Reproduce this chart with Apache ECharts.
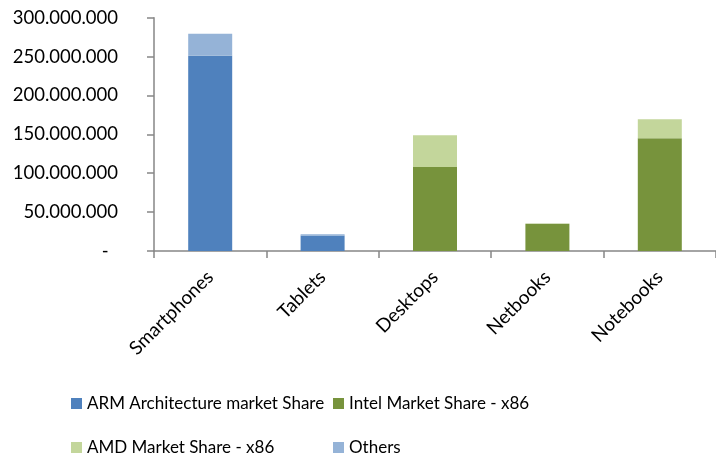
<!DOCTYPE html>
<html><head><meta charset="utf-8">
<script src="https://cdn.jsdelivr.net/npm/echarts@6/dist/echarts.min.js"></script>
<style>html,body{margin:0;padding:0;background:#fff}#c{width:716px;height:458px}</style>
</head><body><div id="c"></div>
<script>
var categories = ['Smartphones', 'Tablets', 'Desktops', 'Netbooks', 'Notebooks'];
var armShare = [251000000, 20000000, 0, 0, 0];
var intelShare = [0, 0, 108000000, 35000000, 145000000];
var amdShare = [0, 0, 41000000, 500000, 24500000];
var othersShare = [28500000, 1500000, 0, 0, 0];
var seriesNames = ['ARM Architecture market Share', 'Intel Market Share - x86', 'AMD Market Share - x86', 'Others'];
var colors = ['#4F81BD', '#77933C', '#C3D69B', '#95B3D7'];
var FONT = 'Lato';

function fmt(v) {
  if (v === 0) return '-  ';
  return String(v).replace(/\B(?=(\d{3})+(?!\d))/g, '.');
}
var chart = echarts.init(document.getElementById('c'));
var data = [armShare, intelShare, amdShare, othersShare];
var legendPos = [[71, 395], [333, 395], [71, 439], [333, 439]];
chart.setOption({
  animation: false,
  textStyle: {fontFamily: FONT, color: '#000'},
  grid: {left: 154, right: 0, top: 17.7, bottom: 207, containLabel: false},
  legend: seriesNames.map(function (n, i) {
    return {
      left: legendPos[i][0], top: legendPos[i][1], itemWidth: 11, itemHeight: 11, itemGap: 4,
      icon: 'rect', padding: 0, textStyle: {fontFamily: FONT, fontSize: 17, color: '#000'},
      data: [n]
    };
  }),
  xAxis: {
    type: 'category', data: categories,
    axisLine: {lineStyle: {color: '#868686', width: 1.5}},
    axisTick: {show: true, length: 7, lineStyle: {color: '#868686', width: 1.5}},
    axisLabel: {rotate: 45, margin: 23, fontSize: 19, color: '#000', fontFamily: FONT, interval: 0}
  },
  yAxis: {
    type: 'value', min: 0, max: 300000000, interval: 50000000,
    splitLine: {show: false},
    axisLine: {show: true, lineStyle: {color: '#868686', width: 1.5}},
    axisTick: {show: true, length: 7, lineStyle: {color: '#868686', width: 1.5}},
    axisLabel: {margin: 36, fontSize: 18.5, color: '#000', fontFamily: FONT, formatter: fmt}
  },
  series: seriesNames.map(function (n, i) {
    return {
      name: n, type: 'bar', stack: 'total', data: data[i], barWidth: 44,
      itemStyle: {color: colors[i]}
    };
  })
});
</script></body></html>
